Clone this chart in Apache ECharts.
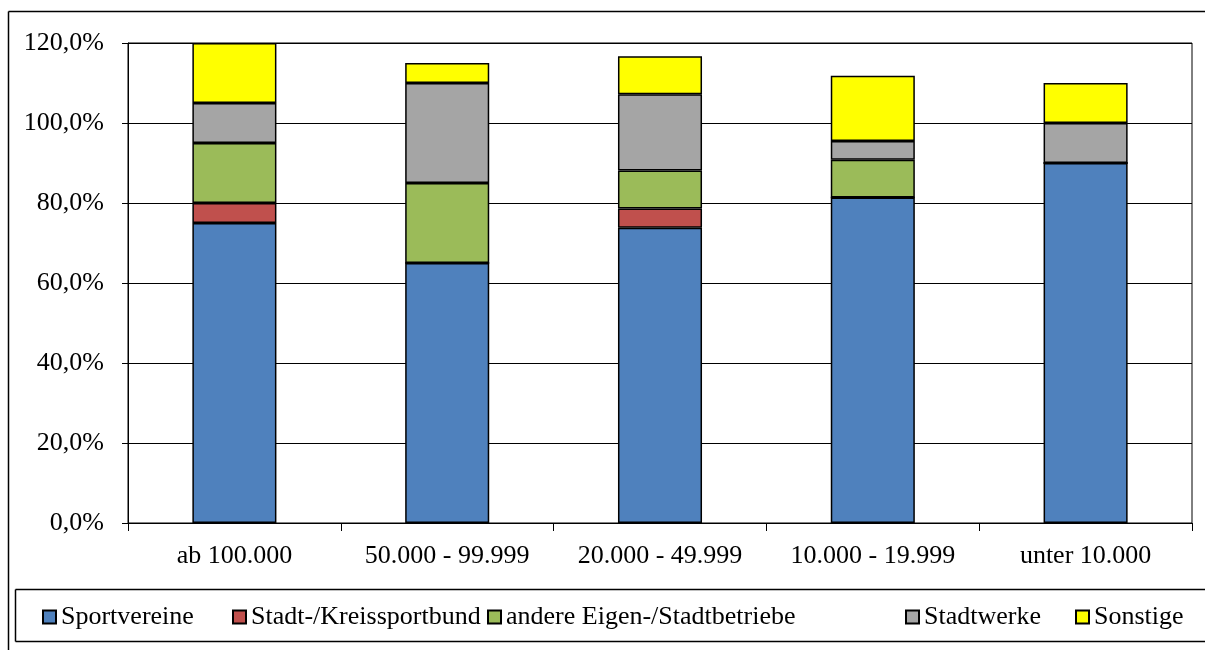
<!DOCTYPE html>
<html>
<head>
<meta charset="utf-8">
<script src="https://cdn.jsdelivr.net/npm/echarts@6/dist/echarts.min.js"></script>
<style>
  html, body { margin: 0; padding: 0; background: #fff; overflow: hidden; }
  #chart { width: 1205px; height: 650px; }
</style>
</head>
<body>
<div id="chart"></div>
<script>
// Anteile der Betreiber nach Gemeindegröße (in Prozent, gestapelt)
const categories = ['ab 100.000', '50.000 - 99.999', '20.000 - 49.999', '10.000 - 19.999', 'unter 10.000'];
const sportvereine   = [75.0, 65.0, 73.8, 81.4, 90.0];
const kreissportbund = [5.0, 0, 4.8, 0, 0];
const eigenbetriebe  = [15.0, 20.0, 9.5, 9.4, 0];
const stadtwerke     = [10.0, 25.0, 19.1, 4.7, 10.0];
const sonstige       = [15.0, 5.0, 9.5, 16.3, 10.0];
const yTicks = [0, 20, 40, 60, 80, 100, 120];

const seriesNames  = ['Sportvereine', 'Stadt-/Kreissportbund', 'andere Eigen-/Stadtbetriebe', 'Stadtwerke', 'Sonstige'];
const seriesData   = [sportvereine, kreissportbund, eigenbetriebe, stadtwerke, sonstige];
const seriesColors = ['#4F81BD', '#C0504D', '#9BBB59', '#A5A5A5', '#FFFF00'];
// left edge of each legend entry in the legend strip (component padding is 5px)
const legendLefts  = [37, 227, 482, 900, 1070];

const FONT = '"Liberation Serif", "DejaVu Serif", serif';

const frameLine = (x1, y1, x2, y2) => ({
  type: 'line', silent: true, z: -1,
  shape: { x1, y1, x2, y2 },
  style: { stroke: '#000', lineWidth: 1.5 }
});

const chart = echarts.init(document.getElementById('chart'), null, { renderer: 'canvas' });
chart.setOption({
  animation: false,
  backgroundColor: '#fff',
  textStyle: { fontFamily: FONT, color: '#000' },
  grid: {
    left: 128, right: 13, top: 43, bottom: 127,
    show: true, borderColor: '#000', borderWidth: 1, backgroundColor: 'transparent'
  },
  graphic: [
    // outer frame (top and left edges)
    frameLine(8.5, 11.5, 1210, 11.5),
    frameLine(8.5, 11.5, 8.5, 660),
    // legend box
    frameLine(15.5, 589.5, 1210, 589.5),
    frameLine(15.5, 641.5, 1210, 641.5),
    frameLine(15.5, 589.5, 15.5, 641.5)
  ],
  legend: seriesNames.map((name, i) => ({
    left: legendLefts[i], top: 599,
    icon: 'rect',
    itemWidth: 13, itemHeight: 13,
    textStyle: { fontFamily: FONT, fontSize: 26, color: '#000' },
    data: [name]
  })),
  xAxis: {
    type: 'category',
    data: categories,
    axisLine: { lineStyle: { color: '#000', width: 1 } },
    axisTick: { show: true, length: 8, lineStyle: { color: '#000' } },
    axisLabel: { interval: 0, color: '#000', fontFamily: FONT, fontSize: 26, margin: 20 }
  },
  yAxis: {
    type: 'value',
    min: 0, max: 120, interval: 20,
    axisLine: { show: true, lineStyle: { color: '#000', width: 1 } },
    axisTick: { show: true, length: 6, lineStyle: { color: '#000' } },
    splitLine: { show: true, lineStyle: { color: '#000', width: 1 } },
    axisLabel: {
      color: '#000', fontFamily: FONT, fontSize: 26, margin: 24,
      formatter: v => yTicks.includes(v) ? v.toFixed(1).replace('.', ',') + '%' : ''
    }
  },
  series: seriesNames.map((name, i) => ({
    name,
    type: 'bar',
    stack: 'total',
    barWidth: '39.5%',
    data: seriesData[i],
    itemStyle: { color: seriesColors[i], borderColor: '#000', borderWidth: 1.5 }
  }))
});
</script>
</body>
</html>
